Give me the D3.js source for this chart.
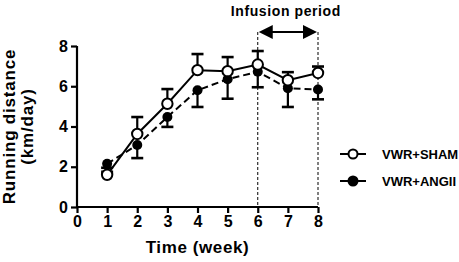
<!DOCTYPE html>
<html>
<head>
<meta charset="utf-8">
<script src="https://cdn.jsdelivr.net/npm/d3@7"></script>
<style>
  body { margin: 0; background: #fff; }
  text { font-family: "Liberation Sans", Arial, sans-serif; font-weight: bold; fill: #000; }
</style>
</head>
<body>
<div id="chart"></div>
<script>
// data
const weeks = [1, 2, 3, 4, 5, 6, 7, 8];
const shamMean = [1.6, 3.63, 5.13, 6.8, 6.75, 7.08, 6.3, 6.66];
const shamUpper = [1.75, 4.47, 5.86, 7.6, 7.45, 7.75, 6.7, 6.98];
const angMean = [2.15, 3.08, 4.47, 5.8, 6.35, 6.72, 5.9, 5.84];
const angLower = [1.95, 2.43, 3.98, 4.97, 5.38, 5.95, 4.97, 5.35];
const xTicks = [0, 1, 2, 3, 4, 5, 6, 7, 8];
const yTicks = [0, 2, 4, 6, 8];
const seriesNames = ["VWR+SHAM", "VWR+ANGII"];

const width = 459, height = 262;
const svg = d3.select("#chart").append("svg")
  .attr("width", width).attr("height", height);

const x = d3.scaleLinear().domain([0, 8]).range([77, 318]);
const y = d3.scaleLinear().domain([0, 8]).range([207, 46]);

// axes
const gx = svg.append("g").attr("transform", `translate(0,${y(0)})`)
  .call(d3.axisBottom(x).tickValues(xTicks).tickFormat(d3.format("d")).tickSize(6).tickPadding(3));
const gy = svg.append("g").attr("transform", `translate(${x(0)},0)`)
  .call(d3.axisLeft(y).tickValues(yTicks).tickSize(6).tickPadding(3));
[gx, gy].forEach(g => {
  g.select(".domain").attr("stroke-width", 2.2).attr("stroke", "#000");
  g.selectAll(".tick line").attr("stroke-width", 2.2).attr("stroke", "#000");
  g.selectAll(".tick text").style("font-size", "16px").style("font-weight", "bold")
    .style("font-family", "Liberation Sans, Arial, sans-serif").attr("fill", "#000");
});
gy.select(".domain").attr("d", `M0,${y(0)}V${y(8)}`);
gx.select(".domain").attr("d", `M0,0H${x(8) - x(0)}`).attr("transform", `translate(${x(0)},0)`);

// axis titles
svg.append("text").attr("x", (x(0) + x(8)) / 2).attr("y", 253)
  .attr("text-anchor", "middle").style("font-size", "17px").style("letter-spacing", "0.6px").text("Time (week)");
svg.append("text").attr("transform", `translate(15,${y(4)}) rotate(-90)`)
  .attr("text-anchor", "middle").style("font-size", "17px").style("letter-spacing", "0.8px").text("Running distance");
svg.append("text").attr("transform", `translate(33,${y(4)}) rotate(-90)`)
  .attr("text-anchor", "middle").style("font-size", "17px").style("letter-spacing", "0.8px").text("(km/day)");

// infusion period
const arrowY = 32;
[6, 8].forEach(w => {
  svg.append("line").attr("x1", x(w)).attr("x2", x(w)).attr("y1", arrowY).attr("y2", y(0))
    .attr("stroke", "#000").attr("stroke-width", 1).attr("stroke-dasharray", "3,2");
});
svg.append("line").attr("x1", x(6) + 10).attr("x2", x(8) - 10).attr("y1", arrowY).attr("y2", arrowY)
  .attr("stroke", "#000").attr("stroke-width", 2.2);
svg.append("path").attr("d", `M${x(6) + 1},${arrowY}l14,-7v14z`).attr("fill", "#000");
svg.append("path").attr("d", `M${x(8) - 1},${arrowY}l-14,-7v14z`).attr("fill", "#000");
svg.append("text").attr("x", (x(6) + x(8)) / 2 - 2).attr("y", 16)
  .attr("text-anchor", "middle").style("font-size", "14px").style("letter-spacing", "0.6px").text("Infusion period");

// error bars
function errBars(means, ends) {
  weeks.forEach((w, i) => {
    svg.append("line").attr("x1", x(w)).attr("x2", x(w)).attr("y1", y(means[i])).attr("y2", y(ends[i]))
      .attr("stroke", "#000").attr("stroke-width", 2.2);
    svg.append("line").attr("x1", x(w) - 6).attr("x2", x(w) + 6).attr("y1", y(ends[i])).attr("y2", y(ends[i]))
      .attr("stroke", "#000").attr("stroke-width", 2.6);
  });
}
errBars(shamMean, shamUpper);
errBars(angMean, angLower);

const line = d3.line().x((d, i) => x(weeks[i])).y(d => y(d));
svg.append("path").datum(angMean).attr("d", line).attr("fill", "none")
  .attr("stroke", "#000").attr("stroke-width", 2).attr("stroke-dasharray", "7,4");
svg.append("path").datum(shamMean).attr("d", line).attr("fill", "none")
  .attr("stroke", "#000").attr("stroke-width", 2);

svg.selectAll(".ang").data(angMean).join("circle")
  .attr("cx", (d, i) => x(weeks[i])).attr("cy", d => y(d)).attr("r", 5).attr("fill", "#000");
svg.selectAll(".sham").data(shamMean).join("circle")
  .attr("cx", (d, i) => x(weeks[i])).attr("cy", d => y(d)).attr("r", 5.2)
  .attr("fill", "#fff").attr("stroke", "#000").attr("stroke-width", 2);

// legend
const legY = [154, 181];
legY.forEach((ly, i) => {
  svg.append("line").attr("x1", 340).attr("x2", 366).attr("y1", ly).attr("y2", ly)
    .attr("stroke", "#000").attr("stroke-width", 2)
    .attr("stroke-dasharray", i === 1 ? "13,5,4,0" : null);
  svg.append("circle").attr("cx", 353).attr("cy", ly).attr("r", 4.5)
    .attr("fill", i === 0 ? "#fff" : "#000").attr("stroke", "#000").attr("stroke-width", 2);
  svg.append("text").attr("x", 382).attr("y", ly + 5).style("font-size", "13px").text(seriesNames[i]);
});
</script>
</body>
</html>
